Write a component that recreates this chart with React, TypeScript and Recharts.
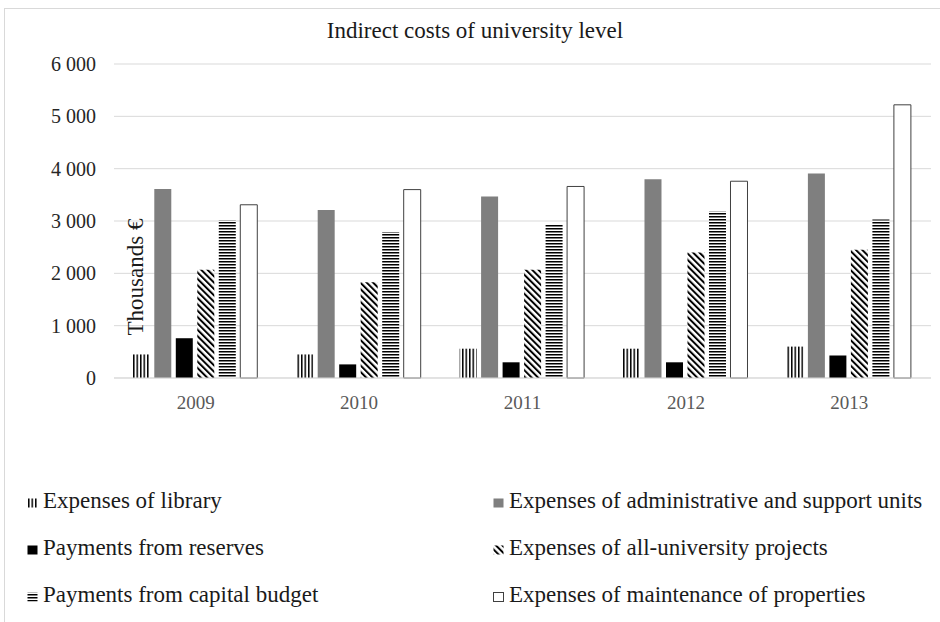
import { BarChart, Bar, XAxis, YAxis, CartesianGrid } from "recharts";

const years = ["2009", "2010", "2011", "2012", "2013"];
const library = [450, 450, 560, 560, 600];
const adminUnits = [3610, 3210, 3470, 3800, 3910];
const reserves = [760, 260, 300, 300, 430];
const projects = [2070, 1830, 2070, 2400, 2450];
const capitalBudget = [3010, 2790, 2940, 3180, 3030];
const maintenance = [3310, 3600, 3660, 3760, 5220];
const yTicks = [0, 1000, 2000, 3000, 4000, 5000, 6000];

const chartTitle = "Indirect costs of university level";
const yLabel = "Thousands €";

const data = years.map((year, i) => ({
    year,
    library: library[i],
    adminUnits: adminUnits[i],
    reserves: reserves[i],
    projects: projects[i],
    capitalBudget: capitalBudget[i],
    maintenance: maintenance[i],
}));

const FONT = '"Liberation Serif", "Times New Roman", serif';

// bar fills, in legend order (row by row, two columns)
const series = [
    { key: "library", name: "Expenses of library", fill: "url(#pVert)", stroke: "none" },
    { key: "adminUnits", name: "Expenses of administrative and support units", fill: "#7f7f7f", stroke: "none" },
    { key: "reserves", name: "Payments from reserves", fill: "#000000", stroke: "none" },
    { key: "projects", name: "Expenses of all-university projects", fill: "url(#pDiag)", stroke: "none" },
    { key: "capitalBudget", name: "Payments from capital budget", fill: "url(#pHorz)", stroke: "none" },
    { key: "maintenance", name: "Expenses of maintenance of properties", fill: "#ffffff", stroke: "#404040" },
];

const formatTick = (v: number) =>
    v >= 1000 ? `${Math.floor(v / 1000)} ${String(v % 1000).padStart(3, "0")}` : String(v);

function Patterns({ prefix = "" }: { prefix?: string }) {
    return (
        <defs>
            <pattern id={`${prefix}pVert`} patternUnits="userSpaceOnUse" width={3.5} height={4}>
                <rect width={3.5} height={4} fill="#fff" />
                <rect width={1.5} height={4} fill="#000" />
            </pattern>
            <pattern id={`${prefix}pHorz`} patternUnits="userSpaceOnUse" width={4} height={3}>
                <rect width={4} height={3} fill="#fff" />
                <rect width={4} height={1.5} fill="#000" />
            </pattern>
            <pattern
                id={`${prefix}pDiag`}
                patternUnits="userSpaceOnUse"
                width={4.5}
                height={4.5}
                patternTransform="rotate(-45)"
            >
                <rect width={4.5} height={4.5} fill="#fff" />
                <rect width={2} height={4.5} fill="#000" />
            </pattern>
        </defs>
    );
}

const legendRows = [508, 555, 602];
const legendCols = [27, 493];

export default function App() {
    return (
        <div
            style={{
                position: "absolute",
                left: 0,
                top: 0,
                width: 940,
                height: 622,
                background: "#fff",
                overflow: "hidden",
                fontFamily: FONT,
            }}
        >
            <div
                style={{
                    position: "absolute",
                    left: 4,
                    top: 8,
                    width: 940,
                    height: 620,
                    borderLeft: "1px solid #d9d9d9",
                    borderTop: "1px solid #d9d9d9",
                }}
            />
            <div style={{ position: "absolute", left: 0, top: 0 }}>
                <BarChart
                    width={940}
                    height={622}
                    data={data}
                    margin={{ top: 64, right: 9, bottom: 204, left: 0 }}
                    barCategoryGap="11.5%"
                    barGap={4.5}
                >
                    <Patterns />
                    <CartesianGrid vertical={false} stroke="#d9d9d9" />
                    <XAxis
                        dataKey="year"
                        axisLine={{ stroke: "#d9d9d9" }}
                        tickLine={false}
                        tickSize={6}
                        tickMargin={12}
                        height={40}
                        tick={{ fill: "#595959", fontSize: 19, fontFamily: FONT }}
                    />
                    <YAxis
                        domain={[0, 6000]}
                        ticks={yTicks}
                        width={114}
                        axisLine={false}
                        tickLine={false}
                        tickSize={6}
                        tickMargin={12}
                        tickFormatter={formatTick}
                        tick={{ fill: "#262626", fontSize: 20, fontFamily: FONT }}
                    />
                    {series.map((s) => (
                        <Bar
                            key={s.key}
                            dataKey={s.key}
                            name={s.name}
                            fill={s.fill}
                            stroke={s.stroke}
                            strokeWidth={1}
                            isAnimationActive={false}
                        />
                    ))}
                </BarChart>
            </div>
            <svg
                width={940}
                height={622}
                style={{ position: "absolute", left: 0, top: 0, pointerEvents: "none" }}
            >
                <Patterns prefix="lg-" />
                <text
                    x={475}
                    y={38}
                    textAnchor="middle"
                    fontSize={23}
                    fill="#1a1a1a"
                    fontFamily={FONT}
                >
                    {chartTitle}
                </text>
                <text
                    x={143}
                    y={277}
                    transform="rotate(-90 143 277)"
                    textAnchor="middle"
                    fontSize={23}
                    fill="#1a1a1a"
                    fontFamily={FONT}
                >
                    {yLabel}
                </text>
                {series.map((s, i) => {
                    const row = Math.floor(i / 2);
                    const col = i % 2;
                    const x = legendCols[col];
                    const y = legendRows[row];
                    const iconFill = s.fill.startsWith("url(#")
                        ? s.fill.replace("url(#", "url(#lg-")
                        : s.fill;
                    return (
                        <g key={s.key}>
                            <rect
                                x={x + 0.5}
                                y={y - 9.5}
                                width={10}
                                height={9}
                                fill={iconFill}
                                stroke={s.stroke === "none" ? "none" : s.stroke}
                            />
                            <text x={x + 16} y={y} fontSize={23} fill="#1a1a1a" fontFamily={FONT}>
                                {s.name}
                            </text>
                        </g>
                    );
                })}
            </svg>
        </div>
    );
}
